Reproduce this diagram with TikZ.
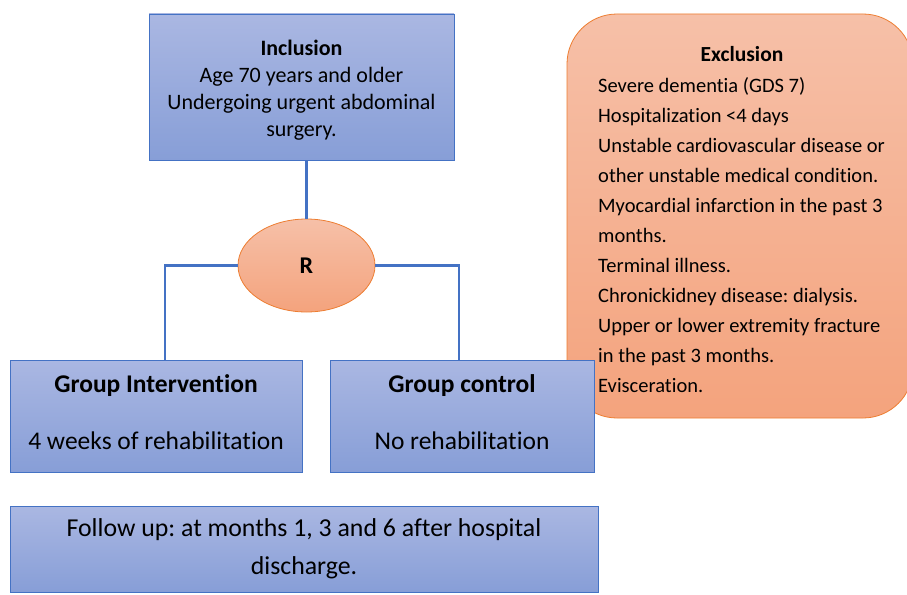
\documentclass[tikz,border=0pt]{standalone}
\usepackage{fontspec}
\setmainfont[Ligatures=NoCommon]{Carlito}
\usetikzlibrary{shapes.geometric}
\definecolor{bluetop}{RGB}{170,183,226}
\definecolor{bluebot}{RGB}{135,158,215}
\definecolor{blueline}{RGB}{68,114,196}
\definecolor{orgtop}{RGB}{246,192,168}
\definecolor{orgbot}{RGB}{244,163,125}
\definecolor{orgline}{RGB}{237,125,49}
\tikzset{
  bluebox/.style={draw=blueline, line width=0.8pt, top color=bluetop, bottom color=bluebot, rectangle, inner sep=0pt, align=center},
  orangebox/.style={draw=orgline, line width=0.8pt, top color=orgtop, bottom color=orgbot, inner sep=0pt},
  link/.style={draw=blueline, line width=2.5pt},
  txt/.style={inner sep=0pt, align=center}
}
\frenchspacing
\begin{document}
\frenchspacing
\begin{tikzpicture}[x=1pt,y=-1pt]
\useasboundingbox (0,0) rectangle (907,594);
% inclusion
\node[bluebox, minimum width=305pt, minimum height=146pt] (inc) at (301.5,87) {};
\node[txt, font=\fontsize{22}{27}\selectfont] (inct) at (301.5,90)
  {\textbf{Inclusion}\\Age 70 years and older\\Undergoing urgent abdominal\\surgery.};
% exclusion
\node[orangebox, rectangle, rounded corners=50pt, minimum width=346pt, minimum height=404pt] (exc) at (740,216) {};
\node[txt, font=\fontsize{21.5}{24}\selectfont\bfseries] (exct) at (742,54) {Exclusion};
\node[txt, anchor=west, align=left, font=\fontsize{20.5}{30}\selectfont] (excl) at (598,235)
  {Severe dementia (GDS 7)\\
   Hospitalization <4 days\\
   Unstable cardiovascular disease or\\
   other unstable medical condition.\\
   Myocardial infarction in the past 3\\
   months.\\
   Terminal illness.\\
   Chronickidney disease: dialysis.\\
   Upper or lower extremity fracture\\
   in the past 3 months.\\
   Evisceration.};
% randomisation
\node[orangebox, ellipse, minimum width=137pt, minimum height=93pt,
      font=\fontsize{24}{24}\selectfont\bfseries] (R) at (306.5,265.5) {R};
% groups
\node[bluebox, minimum width=292pt, minimum height=112pt] (gi) at (156,416) {};
\node[txt, font=\fontsize{25.5}{30}\selectfont\bfseries] (git) at (156,386) {Group Intervention};
\node[txt, font=\fontsize{25.5}{30}\selectfont] (gis) at (156,441) {4 weeks of rehabilitation};
\node[bluebox, minimum width=264pt, minimum height=112pt] (gc) at (462,416) {};
\node[txt, font=\fontsize{25.5}{30}\selectfont\bfseries] (gct) at (462,386) {Group control};
\node[txt, font=\fontsize{25.5}{30}\selectfont] (gcs) at (462,441) {No rehabilitation};
% follow up
\node[bluebox, minimum width=588pt, minimum height=86pt] (fu) at (304,549) {};
\node[txt, font=\fontsize{25.8}{38}\selectfont] (fut) at (304,549)
  {Follow up: at months 1, 3 and 6 after hospital\\discharge.};
% connectors
\draw[link] (inc.south -| R.north) -- (R.north);
\draw[link] (R.west) -| ([xshift=9pt]gi.north);
\draw[link] (R.east) -| ([xshift=-3pt]gc.north);
\end{tikzpicture}
\end{document}
